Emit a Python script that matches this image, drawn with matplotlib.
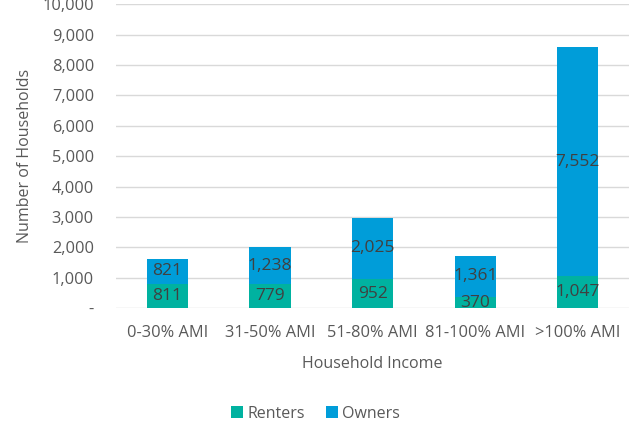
import numpy as np
import matplotlib.pyplot as plt
from matplotlib.ticker import FuncFormatter

plt.rcParams['font.family'] = ['Open Sans', 'DejaVu Sans']

# Households by income band
categories = ['0-30% AMI', '31-50% AMI', '51-80% AMI', '81-100% AMI', '>100% AMI']
renters = [811, 779, 952, 370, 1047]
owners = [821, 1238, 2025, 1361, 7552]

renter_color = '#00B2A0'
owner_color = '#009DD9'
text_color = '#595959'
label_color = '#404040'

fig = plt.figure(figsize=(6.31, 4.28), dpi=100)
ax = fig.add_axes([0.184, 0.280, 0.813, 0.710])

x = np.arange(len(categories))
width = 0.4
b1 = ax.bar(x, renters, width, color=renter_color, label='Renters', zorder=3)
b2 = ax.bar(x, owners, width, bottom=renters, color=owner_color, label='Owners', zorder=3)

# value labels in the middle of each segment
for xi, r, o in zip(x, renters, owners):
    ax.text(xi, r / 2, f'{r:,}', ha='center', va='center', fontsize=12.5,
            color=label_color, zorder=4)
    ax.text(xi, r + o / 2, f'{o:,}', ha='center', va='center', fontsize=12.5,
            color=label_color, zorder=4)

ax.set_ylim(0, 10000)
ax.set_xlim(-0.5, len(categories) - 0.5)
ax.set_yticks(np.arange(0, 10001, 1000))
ax.yaxis.set_major_formatter(FuncFormatter(lambda v, p: '-' if v == 0 else f'{int(v):,}'))
ax.set_xticks(x)
ax.set_xticklabels(categories)
ax.tick_params(length=0, labelsize=11.8, colors=text_color)
ax.tick_params(axis='x', pad=12)
ax.tick_params(axis='y', pad=16)
ax.grid(axis='y', color='#D9D9D9', linewidth=1, zorder=0)
for s in ax.spines.values():
    s.set_visible(False)

ax.set_xlabel('Household Income', fontsize=11.5, color=text_color, labelpad=11)
ax.set_ylabel('Number of Households', fontsize=11.5, color=text_color, labelpad=7)

fig.legend(handles=[b1, b2], loc='center', bbox_to_anchor=(0.5, 0.033), ncol=2,
           frameon=False, fontsize=11.5, labelcolor=text_color,
           handlelength=0.75, handleheight=0.75, handletextpad=0.3, columnspacing=1.3)

fig.savefig('out.png', dpi=100)
